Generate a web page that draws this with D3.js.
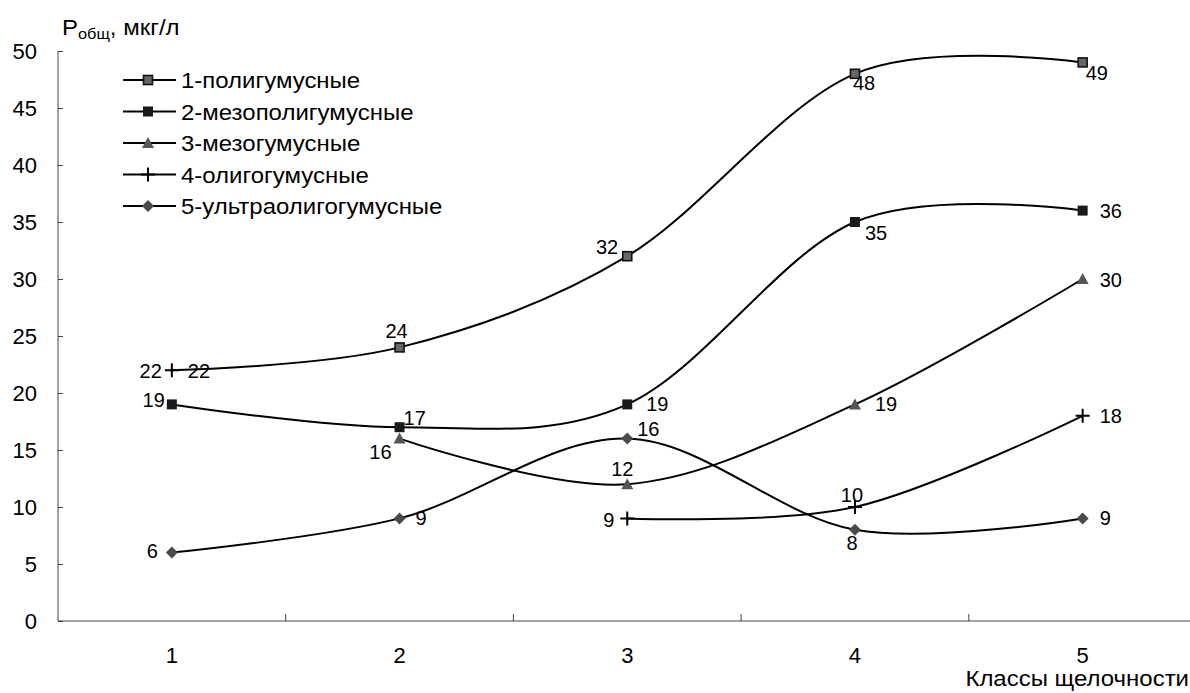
<!DOCTYPE html>
<html><head><meta charset="utf-8">
<script src="https://cdn.jsdelivr.net/npm/d3@7"></script>
<style>body{margin:0;background:#fff}svg{font-family:"Liberation Sans",Arial,sans-serif}</style>
</head><body><svg id="c" width="1190" height="693"></svg>
<script>
const categories = ["1","2","3","4","5"];
const seriesNames = ["1-полигумусные","2-мезополигумусные","3-мезогумусные","4-олигогумусные","5-ультраолигогумусные"];
const s1 = [22, 24, 32, 48, 49];
const s2 = [19, 17, 19, 35, 36];
const s3 = [null, 16, 12, 19, 30];
const s4 = [22, null, 9, 10, 18];
const s5 = [6, 9, 16, 8, 9];
const yTicks = [0,5,10,15,20,25,30,35,40,45,50];
const yTitle = "P";
const yTitleSub = "общ";
const yTitleRest = ", мкг/л";
const xTitle = "Классы щелочности";

// label placement (style): [dx, dy, anchor]
const labelPlace = [
  [[16,8,"start"],[-3,-9,"middle"],[-9,-2,"end"],[-2,16,"start"],[3,18,"start"]],
  [[-7,3,"end"],[4,-2,"start"],[19,7,"start"],[10,18,"start"],[17,7,"start"]],
  [null,[-8,20,"end"],[-5,-8,"middle"],[20,7,"start"],[17,8,"start"]],
  [[-10,8,"end"],null,[-13,9,"end"],[-3,-5,"middle"],[17,7,"start"]],
  [[-14,5,"end"],[16,7,"start"],[10,-3,"start"],[-3,20,"middle"],[17,7,"start"]]
];
const markerShown = [[false,true,true,true,true],null,null,null,null];
const markerType = ["sqo","sq","tri","cross","dia"];
const cyrStretch = 1.09;

const svg = d3.select("#c");
const x = d3.scaleBand().domain(categories).range([58, 1196.5]);
const cx = c => x(c) + x.bandwidth()/2;
const y = d3.scaleLinear().domain([0,50]).range([621, 51]);
const axisColor = "#444";

// axes
const gy = svg.append("g").attr("transform","translate(58,0)")
  .call(d3.axisLeft(y).tickValues(yTicks).tickSize(-5).tickPadding(21));
gy.select(".domain").attr("stroke",axisColor).attr("d","M0,51V621");
gy.selectAll(".tick line").attr("stroke",axisColor);
gy.selectAll(".tick text").attr("font-size","22px").attr("fill","#000").attr("font-family","Liberation Sans, Arial, sans-serif");

const xAxisG = svg.append("g").attr("transform","translate(0,621)");
xAxisG.append("line").attr("x1",58).attr("x2",1190).attr("stroke",axisColor);
const bounds = categories.slice(1).map(c => x(c));
xAxisG.selectAll(".xt").data(bounds).join("line")
  .attr("x1",d=>d).attr("x2",d=>d).attr("y1",0).attr("y2",-7).attr("stroke",axisColor);
xAxisG.selectAll(".xl").data(categories).join("text")
  .attr("x",d=>cx(d)).attr("y",42).attr("text-anchor","middle")
  .attr("font-size","22px").text(d=>d);

function stretchedText(px, py, anchor, size){
  return svg.append("g").attr("transform",`translate(${px},${py}) scale(${cyrStretch},1)`)
    .append("text").attr("text-anchor",anchor).attr("font-size",size);
}
stretchedText(1189,686,"end","22px").text(xTitle);
const tt = stretchedText(62,35,"start","22px");
tt.append("tspan").text(yTitle);
tt.append("tspan").attr("font-size","15px").attr("dy",4).text(yTitleSub);
tt.append("tspan").attr("dy",-4).text(yTitleRest);

const allSeries = [s1,s2,s3,s4,s5];
const line = d3.line().defined(d=>d.v!==null).x(d=>cx(d.c)).y(d=>y(d.v)).curve(d3.curveCatmullRom.alpha(0));

function drawMarker(g, type, px, py){
  if(type==="sqo") g.append("rect").attr("x",px-4.5).attr("y",py-4.5).attr("width",9).attr("height",9).attr("fill","#666").attr("stroke","#111").attr("stroke-width",1.6);
  else if(type==="sq") g.append("rect").attr("x",px-5).attr("y",py-5).attr("width",10).attr("height",10).attr("fill","#1a1a1a");
  else if(type==="tri") g.append("path").attr("d",`M${px},${py-6}L${px+6},${py+5}L${px-6},${py+5}Z`).attr("fill","#555");
  else if(type==="dia") g.append("path").attr("d",`M${px},${py-6}L${px+6},${py}L${px},${py+6}L${px-6},${py}Z`).attr("fill","#4a4a4a");
  else if(type==="cross") g.append("path").attr("d",`M${px-7},${py}H${px+7}M${px},${py-7}V${py+7}`).attr("stroke","#000").attr("stroke-width",2);
}

allSeries.forEach((s,i)=>{
  const pts = s.map((v,j)=>({c:categories[j], v}));
  svg.append("path").attr("d", line(pts)).attr("fill","none").attr("stroke","#000").attr("stroke-width",2);
});
allSeries.forEach((s,i)=>{
  const g = svg.append("g");
  s.forEach((v,j)=>{
    if(v===null) return;
    if(markerShown[i] && !markerShown[i][j]) return;
    drawMarker(g, markerType[i], cx(categories[j]), y(v));
  });
});
allSeries.forEach((s,i)=>{
  s.forEach((v,j)=>{
    if(v===null) return;
    const p = labelPlace[i][j];
    svg.append("text").attr("x",cx(categories[j])+p[0]).attr("y",y(v)+p[1]).attr("text-anchor",p[2])
      .attr("font-size","20px").text(v);
  });
});

// legend
const lg = svg.append("g");
seriesNames.forEach((n,i)=>{
  const yy = 80 + i*31.5;
  lg.append("line").attr("x1",123).attr("x2",176).attr("y1",yy).attr("y2",yy).attr("stroke","#000").attr("stroke-width",2);
  drawMarker(lg, markerType[i], 148, yy);
  lg.append("g").attr("transform",`translate(181,${yy+8}) scale(${cyrStretch},1)`)
    .append("text").attr("font-size","22px").text(n);
});
</script></body></html>
